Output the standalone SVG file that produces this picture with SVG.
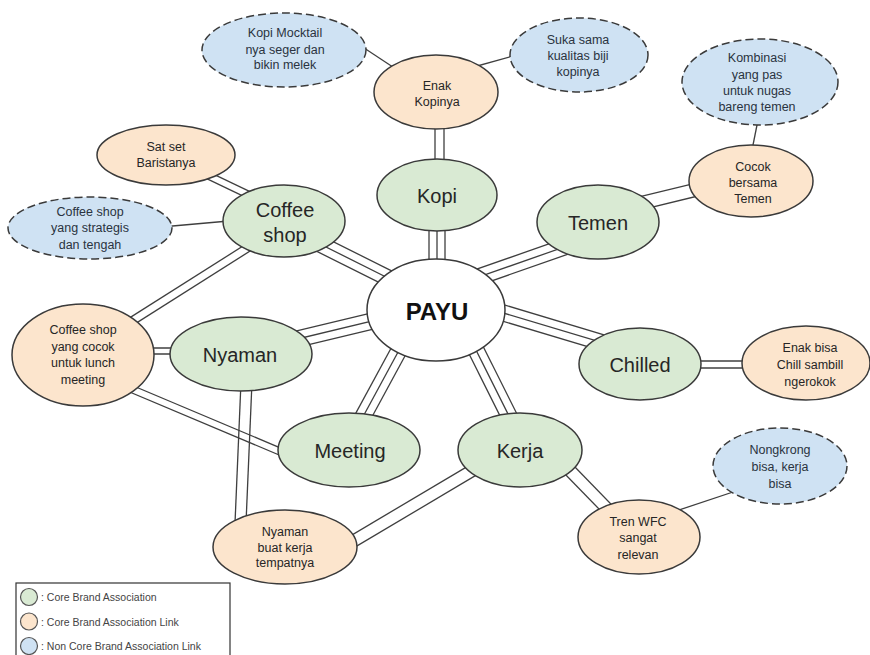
<svg xmlns="http://www.w3.org/2000/svg" width="870" height="655" viewBox="0 0 870 655">
<style>
  .bg{fill:#ffffff}
  .cn line{stroke:#3f3f3f;stroke-width:1.3;fill:none}
  .core{fill:#d9ead3;stroke:#3a3a3a;stroke-width:1.5}
  .center{fill:#ffffff;stroke:#3a3a3a;stroke-width:1.5}
  .link{fill:#fce5cd;stroke:#3a3a3a;stroke-width:1.5}
  .non{fill:#cfe2f3;stroke:#3a3a3a;stroke-width:1.5;stroke-dasharray:8 4}
  text{font-family:"Liberation Sans",Arial,sans-serif;fill:#262626;text-anchor:middle;dominant-baseline:central}
  .big{font-size:20px}
  .title{font-size:24px;font-weight:bold;fill:#111}
  .sm{font-size:12.5px}
  .nsm{font-size:12.5px;fill:#2a3340}
  .leg{font-size:10.5px;text-anchor:start;fill:#444}
</style>
<rect class="bg" x="0" y="0" width="870" height="655"/>

<g id="connectors" class="cn">
  <!-- PAYU - Kopi -->
  <line x1="429" y1="225" x2="429" y2="265"/><line x1="437" y1="225" x2="437" y2="265"/><line x1="445" y1="225" x2="445" y2="265"/>
  <!-- Enak Kopinya - Kopi -->
  <line x1="435" y1="120" x2="435" y2="165"/><line x1="444" y1="120" x2="444" y2="165"/>
  <!-- PAYU - Coffee shop -->
  <g transform="translate(300 234) rotate(26.57)"><line x1="0" y1="-8" x2="111.8" y2="-8"/><line x1="0" y1="0" x2="111.8" y2="0"/><line x1="0" y1="8" x2="111.8" y2="8"/></g>
  <!-- PAYU - Temen -->
  <g transform="translate(450 287) rotate(-19.29)"><line x1="0" y1="-8" x2="148.3" y2="-8"/><line x1="0" y1="0" x2="148.3" y2="0"/><line x1="0" y1="8" x2="148.3" y2="8"/></g>
  <!-- PAYU - Chilled -->
  <g transform="translate(470 303) rotate(16.70)"><line x1="0" y1="-8" x2="167" y2="-8"/><line x1="0" y1="0" x2="167" y2="0"/><line x1="0" y1="8" x2="167" y2="8"/></g>
  <!-- PAYU - Nyaman -->
  <g transform="translate(260 348) rotate(-13.5)"><line x1="0" y1="-8" x2="154.3" y2="-8"/><line x1="0" y1="0" x2="154.3" y2="0"/><line x1="0" y1="8" x2="154.3" y2="8"/></g>
  <!-- PAYU - Meeting -->
  <g transform="translate(410 330) rotate(118.46)"><line x1="0" y1="-8" x2="121.7" y2="-8"/><line x1="0" y1="0" x2="121.7" y2="0"/><line x1="0" y1="8" x2="121.7" y2="8"/></g>
  <!-- PAYU - Kerja -->
  <g transform="translate(466 330) rotate(63.43)"><line x1="0" y1="-8" x2="109.6" y2="-8"/><line x1="0" y1="0" x2="109.6" y2="0"/><line x1="0" y1="8" x2="109.6" y2="8"/></g>
  <!-- Coffee shop - Sat set -->
  <g transform="translate(180 162) rotate(25.54)"><line x1="0" y1="-3.5" x2="99.7" y2="-3.5"/><line x1="0" y1="3.5" x2="99.7" y2="3.5"/></g>
  <!-- Coffee shop - strategis -->
  <line x1="150" y1="228" x2="240" y2="220"/>
  <!-- Coffee shop - lunch meeting -->
  <g transform="translate(260 240) rotate(147.65)"><line x1="0" y1="-4" x2="177.6" y2="-4"/><line x1="0" y1="4" x2="177.6" y2="4"/></g>
  <!-- lunch meeting - Nyaman -->
  <line x1="140" y1="348" x2="190" y2="348"/><line x1="140" y1="354" x2="190" y2="354"/>
  <!-- lunch meeting - Meeting -->
  <g transform="translate(115 382) rotate(22.86)"><line x1="0" y1="-3.5" x2="200.8" y2="-3.5"/><line x1="0" y1="3.5" x2="200.8" y2="3.5"/></g>
  <!-- Nyaman - Nyaman buat kerja -->
  <line x1="241.5" y1="370" x2="234.5" y2="535"/><line x1="252.5" y1="370" x2="245.5" y2="535"/>
  <!-- Kerja - Nyaman buat kerja -->
  <g transform="translate(490 460) rotate(149.3)"><line x1="0" y1="-6" x2="186.1" y2="-6"/><line x1="0" y1="6" x2="186.1" y2="6"/></g>
  <!-- Kerja - Tren WFC -->
  <g transform="translate(550 450) rotate(45.8)"><line x1="0" y1="-6" x2="100.4" y2="-6"/><line x1="0" y1="6" x2="100.4" y2="6"/></g>
  <!-- Tren WFC - Nongkrong -->
  <line x1="670" y1="513" x2="745" y2="488"/>
  <!-- Temen - Cocok -->
  <g transform="translate(620 208.3) rotate(-13.7)"><line x1="0" y1="-6.5" x2="102.9" y2="-6.5"/><line x1="0" y1="6.5" x2="102.9" y2="6.5"/></g>
  <!-- Cocok - Kombinasi -->
  <line x1="759" y1="115" x2="751" y2="155"/>
  <!-- Chilled - Enak bisa -->
  <line x1="690" y1="361" x2="755" y2="361"/><line x1="690" y1="368" x2="755" y2="368"/>
  <!-- Enak Kopinya - Mocktail -->
  <line x1="355" y1="42" x2="405" y2="75"/>
  <!-- Enak Kopinya - Suka sama -->
  <line x1="470" y1="68" x2="520" y2="54"/>
</g>

<g id="payu"><ellipse class="center" cx="436" cy="310" rx="69" ry="51"/><text class="title" x="437" y="311">PAYU</text></g>
<g id="kopi"><ellipse class="core" cx="437" cy="195" rx="60" ry="36"/><text class="big" x="437" y="196">Kopi</text></g>
<g id="coffee-shop"><ellipse class="core" cx="284" cy="221" rx="61" ry="36"/><text class="big" x="285" y="210">Coffee</text><text class="big" x="285" y="235">shop</text></g>
<g id="temen"><ellipse class="core" cx="598" cy="222" rx="61" ry="37"/><text class="big" x="598" y="223">Temen</text></g>
<g id="chilled"><ellipse class="core" cx="640" cy="364" rx="61" ry="36"/><text class="big" x="640" y="365">Chilled</text></g>
<g id="nyaman"><ellipse class="core" cx="241" cy="354" rx="71" ry="37"/><text class="big" x="240" y="355">Nyaman</text></g>
<g id="meeting"><ellipse class="core" cx="349" cy="450" rx="71" ry="37"/><text class="big" x="350" y="451">Meeting</text></g>
<g id="kerja"><ellipse class="core" cx="520" cy="450" rx="62" ry="37"/><text class="big" x="520" y="451">Kerja</text></g>

<g id="enak-kopinya"><ellipse class="link" cx="436" cy="92" rx="62" ry="37"/><text class="sm" x="437" y="86">Enak</text><text class="sm" x="437" y="102">Kopinya</text></g>
<g id="sat-set"><ellipse class="link" cx="166" cy="155" rx="69" ry="30"/><text class="sm" x="166" y="147">Sat set</text><text class="sm" x="166" y="163">Baristanya</text></g>
<g id="lunch-meeting"><ellipse class="link" cx="83" cy="355" rx="71" ry="51"/><text class="sm" x="83" y="330">Coffee shop</text><text class="sm" x="83" y="347">yang cocok</text><text class="sm" x="83" y="363">untuk lunch</text><text class="sm" x="83" y="380">meeting</text></g>
<g id="cocok"><ellipse class="link" cx="751" cy="181" rx="62" ry="36"/><text class="sm" x="753" y="167">Cocok</text><text class="sm" x="753" y="183">bersama</text><text class="sm" x="753" y="199">Temen</text></g>
<g id="enak-bisa"><ellipse class="link" cx="806" cy="363" rx="64" ry="37"/><text class="sm" x="810" y="348">Enak bisa</text><text class="sm" x="810" y="365">Chill sambill</text><text class="sm" x="810" y="382">ngerokok</text></g>
<g id="nyaman-kerja"><ellipse class="link" cx="285" cy="547" rx="72" ry="37"/><text class="sm" x="285" y="532">Nyaman</text><text class="sm" x="285" y="548">buat kerja</text><text class="sm" x="285" y="563">tempatnya</text></g>
<g id="tren-wfc"><ellipse class="link" cx="639" cy="537" rx="61" ry="37"/><text class="sm" x="638" y="522">Tren WFC</text><text class="sm" x="638" y="538">sangat</text><text class="sm" x="638" y="555">relevan</text></g>

<g id="mocktail"><ellipse class="non" cx="284" cy="50" rx="82" ry="37"/><text class="nsm" x="285" y="33">Kopi Mocktail</text><text class="nsm" x="285" y="50">nya seger dan</text><text class="nsm" x="285" y="65">bikin melek</text></g>
<g id="suka-sama"><ellipse class="non" cx="579" cy="55" rx="69" ry="37"/><text class="nsm" x="578" y="40">Suka sama</text><text class="nsm" x="578" y="56">kualitas biji</text><text class="nsm" x="578" y="72">kopinya</text></g>
<g id="strategis"><ellipse class="non" cx="90" cy="228" rx="82" ry="31"/><text class="nsm" x="90" y="212">Coffee shop</text><text class="nsm" x="90" y="228">yang strategis</text><text class="nsm" x="90" y="245">dan tengah</text></g>
<g id="kombinasi"><ellipse class="non" cx="760" cy="82" rx="78" ry="43"/><text class="nsm" x="757" y="58">Kombinasi</text><text class="nsm" x="757" y="75">yang pas</text><text class="nsm" x="757" y="91">untuk nugas</text><text class="nsm" x="757" y="107">bareng temen</text></g>
<g id="nongkrong"><ellipse class="non" cx="780" cy="466" rx="67" ry="38"/><text class="nsm" x="780" y="450">Nongkrong</text><text class="nsm" x="780" y="467">bisa, kerja</text><text class="nsm" x="780" y="484">bisa</text></g>

<g id="legend">
  <rect x="16" y="583" width="214" height="80" fill="#ffffff" stroke="#333" stroke-width="1.2"/>
  <circle cx="29" cy="597" r="8.5" fill="#d9ead3" stroke="#555" stroke-width="1.2"/>
  <circle cx="29" cy="621.5" r="8.5" fill="#fce5cd" stroke="#555" stroke-width="1.2"/>
  <circle cx="29" cy="646" r="8.5" fill="#cfe2f3" stroke="#555" stroke-width="1.2"/>
  <text class="leg" x="41" y="597">: Core Brand Association</text>
  <text class="leg" x="41" y="621.5">: Core Brand Association Link</text>
  <text class="leg" x="41" y="646">: Non Core Brand Association Link</text>
</g>
</svg>
